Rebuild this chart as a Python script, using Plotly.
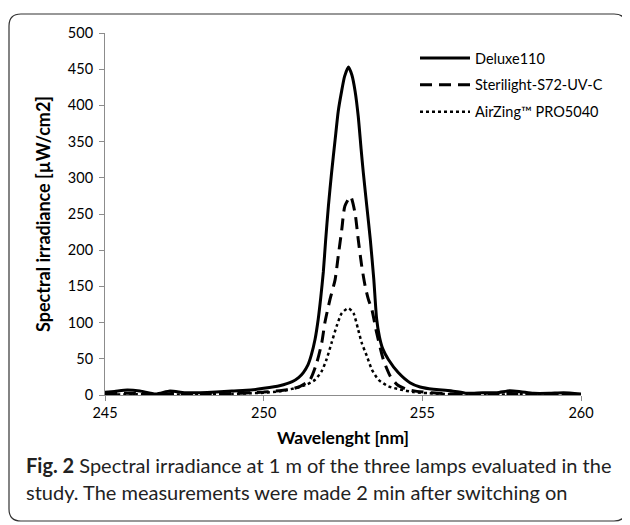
import plotly.graph_objects as go

# ---- data ----
deluxe_x = [245.0, 245.3, 245.7, 246.1, 246.6, 247.05, 247.5, 248.0, 248.5, 249.0, 249.6,
            250.0, 250.5, 250.9, 251.1, 251.25, 251.4, 251.5, 251.62, 251.72, 251.8,
            251.88, 251.95, 252.04, 252.14, 252.25, 252.35, 252.45, 252.55, 252.67,
            252.78, 252.88, 252.98, 253.07, 253.14, 253.25, 253.36, 253.47, 253.56,
            253.65, 253.75, 253.93, 254.24, 254.61, 254.93, 255.35, 255.9, 256.4,
            256.9, 257.35, 257.76, 258.1, 258.5, 259.0, 259.45, 260.0]
deluxe_y = [3.7, 5.0, 6.9, 5.5, 1.4, 5.5, 3.2, 3.2, 4.1, 5.5, 6.9,
            9.2, 12.8, 18.4, 24, 31, 42, 55, 77, 105, 135,
            170, 212, 261, 307, 352, 392, 418, 440, 453,
            442, 420, 385, 340, 307, 261, 215, 160, 105,
            80, 64, 49, 31, 17, 11, 7.8, 6.0, 2.3,
            3.2, 3.2, 6.0, 4.6, 2.3, 2.3, 3.2, 1.4]

steri_x = [245.0, 245.7, 246.6, 247.1, 248.0, 249.0, 249.6, 250.0, 250.5, 250.83,
           251.15, 251.46, 251.67, 251.83, 251.93, 252.09, 252.25, 252.35, 252.46,
           252.56, 252.74, 252.88, 252.98, 253.09, 253.2, 253.3, 253.41, 253.56,
           253.77, 253.99, 254.2, 254.52, 254.83, 255.3, 256.0, 256.5, 257.0,
           257.8, 258.5, 259.3, 260.0]
steri_y = [1.5, 2.5, 0.5, 2.0, 1.0, 2.0, 3.0, 4.0, 6.0, 7.6,
           12, 21, 44, 72, 100, 132, 159, 192, 228,
           261, 274, 251, 215, 178, 150, 132, 118, 86,
           49, 26, 14.5, 7.6, 5.0, 3.0, 1.5, 0.5, 1.0,
           2.0, 0.8, 1.0, 0.5]

air_x = [245.0, 246.0, 247.0, 248.0, 249.0, 249.6, 250.0, 250.5, 251.04, 251.36,
         251.62, 251.83, 251.98, 252.14, 252.3, 252.46, 252.67, 252.83, 252.98,
         253.09, 253.25, 253.41, 253.62, 253.93, 254.3, 254.72, 255.2, 256.0,
         257.0, 258.0, 259.0, 260.0]
air_y = [0.5, 1.0, 0.5, 1.0, 1.5, 2.5, 3.0, 5.0, 10, 14.5,
         21, 33, 49, 72, 95, 113, 120, 113, 90,
         72, 54, 35, 21, 12, 7.6, 4.0, 2.5, 1.0,
         0.5, 1.0, 0.5, 0.3]

names = ["Deluxe110", "Sterilight-S72-UV-C", "AirZing™ PRO5040"]
x_ticks = [245, 250, 255, 260]
y_ticks = [0, 50, 100, 150, 200, 250, 300, 350, 400, 450, 500]

FONT = "Lato"

fig = go.Figure()
fig.add_trace(go.Scatter(x=deluxe_x, y=deluxe_y, mode="lines", name=names[0], legendgroup="a",
                         line=dict(color="black", width=3, shape="spline", smoothing=0.6)))
fig.add_trace(go.Scatter(x=steri_x, y=steri_y, mode="lines", name=names[1], legendgroup="b",
                         line=dict(color="black", width=3, dash="12px,7px", shape="spline", smoothing=0.6)))
fig.add_trace(go.Scatter(x=air_x, y=air_y, mode="lines", name=names[2], legendgroup="c",
                         line=dict(color="black", width=2.5, dash="dot", shape="spline", smoothing=0.6)))

# page body has an 8px margin, so the figure is 8px smaller than the window
OFF = 8
W, H = 630 - OFF, 525 - OFF
PL, PR, PT, PB = 105, 581, 33, 395        # plot area in window pixels
L, R, T, B = PL - OFF, 630 - PR, PT - OFF, 525 - PB
pw, ph = PR - PL, PB - PT

def px_x(p):
    return (p - PL) / pw

def px_y(p):
    return (PB - p) / ph

# rounded border around the whole figure
x0, x1 = px_x(9), px_x(626)
y0, y1 = px_y(521), px_y(14)
rx, ry = 12 / pw, 12 / ph
path = (f"M {x0+rx},{y1} L {x1-rx},{y1} Q {x1},{y1} {x1},{y1-ry} "
        f"L {x1},{y0+ry} Q {x1},{y0} {x1-rx},{y0} L {x0+rx},{y0} "
        f"Q {x0},{y0} {x0},{y0+ry} L {x0},{y1-ry} Q {x0},{y1} {x0+rx},{y1} Z")

fig.update_layout(
    width=W, height=H,
    margin=dict(l=L, r=R, t=T, b=B),
    paper_bgcolor="white", plot_bgcolor="white",
    font=dict(family=FONT, size=14, color="black"),
    showlegend=True,
    legend=dict(x=px_x(415), y=px_y(42), xanchor="left", yanchor="top",
                bgcolor="rgba(0,0,0,0)", font=dict(size=14.5, family=FONT),
                tracegroupgap=5, itemwidth=50),
    xaxis=dict(range=[245, 260], tickvals=x_ticks, ticktext=[str(v) for v in x_ticks],
               showgrid=False, zeroline=False, showline=True, linecolor="#8c8c8c", linewidth=1,
               ticks="outside", ticklen=5, tickcolor="#8c8c8c",
               tickfont=dict(size=14.5, family=FONT),
               title=dict(text="<b>Wavelenght [nm]</b>", font=dict(size=17.5, family=FONT), standoff=11)),
    yaxis=dict(range=[0, 500], tickvals=y_ticks, ticktext=[str(v) for v in y_ticks],
               showgrid=False, zeroline=False, showline=True, linecolor="#8c8c8c", linewidth=1,
               ticks="outside", ticklen=5, tickcolor="#8c8c8c", ticklabelstandoff=3,
               tickfont=dict(size=14.5, family=FONT),
               title=dict(text="<b>Spectral irradiance [µW/cm2]</b>", font=dict(size=18, family=FONT), standoff=12)),
    shapes=[dict(type="path", path=path, xref="paper", yref="paper",
                 line=dict(color="#333333", width=1.2), fillcolor="rgba(0,0,0,0)", layer="below")],
    annotations=[
        dict(text="<b>Fig. 2</b> Spectral irradiance at 1 m of the three lamps evaluated in the",
             xref="paper", yref="paper", x=px_x(24), y=px_y(465), xanchor="left", yanchor="middle",
             showarrow=False, font=dict(size=20, family=FONT, color="#222222")),
        dict(text="study. The measurements were made 2 min after switching on",
             xref="paper", yref="paper", x=px_x(24), y=px_y(492), xanchor="left", yanchor="middle",
             showarrow=False, font=dict(size=20, family=FONT, color="#222222")),
    ],
)

fig.write_html("out.html")
